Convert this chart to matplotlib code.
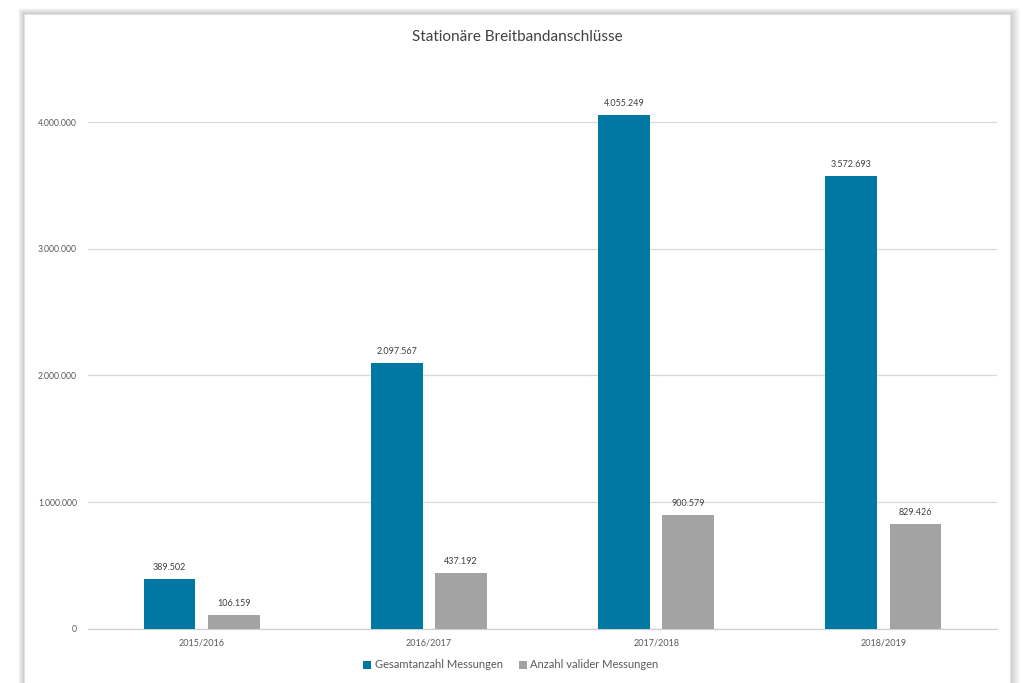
import matplotlib
matplotlib.use("Agg")
import matplotlib.pyplot as plt
from matplotlib.patches import Rectangle
import numpy as np

# data
categories = ["2015/2016", "2016/2017", "2017/2018", "2018/2019"]
gesamt = [389502, 2097567, 4055249, 3572693]
valide = [106159, 437192, 900579, 829426]
series_names = ["Gesamtanzahl Messungen", "Anzahl valider Messungen"]
yticks = [0, 1000000, 2000000, 3000000, 4000000]

BLUE = "#0078a4"
GREY = "#a3a3a3"
TXT = "#595959"

plt.rcParams["font.family"] = ["Lato", "DejaVu Sans"]


def de_fmt(v):
    return f"{v:,.0f}".replace(",", ".")


fig = plt.figure(figsize=(10.23, 6.83), dpi=100)
fig.patch.set_facecolor("white")

W, H = 1023, 683
# panel with a soft shadow (stronger on the right)
for k in range(1, 11):
    fig.patches.append(Rectangle(((24 - k * 0.6) / W, 0), (986 + k * 1.6) / W,
                                 (H - 14 + k * 0.6) / H, transform=fig.transFigure,
                                 facecolor="black", alpha=0.018, edgecolor="none",
                                 zorder=0))
fig.patches.append(Rectangle((24 / W, -0.01), 986 / W, (H - 14) / H + 0.01,
                             transform=fig.transFigure, facecolor="white",
                             edgecolor="#e2e2e2", lw=0.8, zorder=1))

ax = fig.add_axes([88 / W, 1 - 628.7 / H, 909 / W, 570 / H])
ax.set_facecolor("none")
ax.set_zorder(2)

x = np.arange(len(categories))
bw = 0.228
off = 0.141
b1 = ax.bar(x - off, gesamt, bw, color=BLUE, label=series_names[0], zorder=3)
b2 = ax.bar(x + off, valide, bw, color=GREY, label=series_names[1], zorder=3)

for bars, vals in [(b1, gesamt), (b2, valide)]:
    for rect, v in zip(bars, vals):
        ax.annotate(de_fmt(v), (rect.get_x() + rect.get_width() / 2, v),
                    xytext=(0, 5), textcoords="offset points", ha="center",
                    va="bottom", fontsize=6.5, color="#404040")

ax.set_xlim(-0.5, len(categories) - 0.5)
ax.set_ylim(0, 4500000)
ax.set_yticks(yticks)
ax.set_yticklabels([de_fmt(v) for v in yticks], fontsize=6.2, color=TXT)
ax.set_xticks(x)
ax.set_xticklabels(categories, fontsize=6.5, color=TXT)
ax.tick_params(axis="y", length=0, pad=8)
ax.tick_params(axis="x", length=0, pad=7)
ax.yaxis.grid(True, color="#d9d9d9", lw=0.9, zorder=0)
ax.set_axisbelow(True)
for s in ["top", "right", "left"]:
    ax.spines[s].set_visible(False)
ax.spines["bottom"].set_color("#d0d0d0")
ax.spines["bottom"].set_linewidth(0.9)

fig.text(517 / W, 1 - 37 / H, "Stationäre Breitbandanschlüsse", ha="center",
         va="center", fontsize=11, color="#404040")

fig.legend(handles=[b1, b2], labels=series_names, loc="center",
           bbox_to_anchor=(511 / W, 1 - 665 / H), ncol=2, frameon=False,
           fontsize=8, handlelength=0.7, handleheight=0.7, handletextpad=0.3,
           columnspacing=1.5, labelcolor=TXT)

fig.savefig("out.png", dpi=100)
